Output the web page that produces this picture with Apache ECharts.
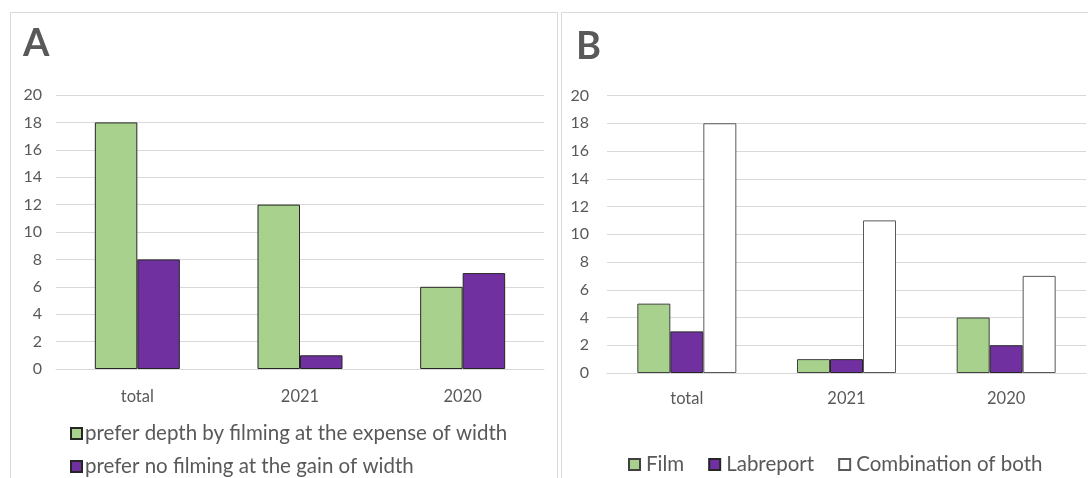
<!DOCTYPE html>
<html>
<head>
<meta charset="utf-8">
<script src="https://cdn.jsdelivr.net/npm/echarts@6/dist/echarts.min.js"></script>
<style>
  html, body { margin: 0; padding: 0; background: #fff; }
  #chart { width: 1088px; height: 478px; }
</style>
</head>
<body>
<div id="chart"></div>
<script>
// Categories shared by both panels
const categories = ['total', '2021', '2020'];
const yTicks = [0, 2, 4, 6, 8, 10, 12, 14, 16, 18, 20];

// Panel A: preference between depth (filming) and width
const seriesANames = ['prefer depth by filming at the expense of width', 'prefer no filming at the gain of width'];
const preferDepth = [18, 12, 6];
const preferNoFilming = [8, 1, 7];

// Panel B: preferred form of assessment
const seriesBNames = ['Film', 'Labreport', 'Combination of both'];
const film = [5, 1, 4];
const labreport = [3, 1, 2];
const combination = [18, 11, 7];

const GREEN = '#A9D18E';
const PURPLE = '#7030A0';
const WHITE = '#FFFFFF';
const TEXT = '#595959';
const GRID = '#D9D9D9';
const FONT = 'Lato, "Open Sans", sans-serif';

const chart = echarts.init(document.getElementById('chart'), null, { renderer: 'canvas' });

function xAxis(gridIndex, margin) {
  return {
    type: 'category', gridIndex, data: categories,
    axisTick: { show: false },
    axisLine: { lineStyle: { color: GRID, width: 1 } },
    axisLabel: { color: TEXT, fontSize: 16.5, fontFamily: FONT, margin }
  };
}
function yAxis(gridIndex, margin) {
  return {
    type: 'value', gridIndex, min: 0, max: yTicks[yTicks.length - 1], interval: 2,
    axisLine: { show: false }, axisTick: { show: false },
    splitLine: { lineStyle: { color: GRID, width: 1 } },
    axisLabel: { color: TEXT, fontSize: 16, fontFamily: FONT, margin }
  };
}
function bar(name, data, color, idx, width, border) {
  return {
    type: 'bar', name, data, xAxisIndex: idx, yAxisIndex: idx,
    barWidth: width, barGap: '0%',
    itemStyle: { color, borderColor: border, borderWidth: 1 },
    emphasis: { disabled: true }
  };
}
function legend(names, left, top, gap, pad) {
  return {
    data: names, orient: 'horizontal', left, top, itemGap: gap,
    itemWidth: 11, itemHeight: 11, icon: 'rect',
    textStyle: { color: TEXT, fontSize: 20.5, fontFamily: FONT, padding: [0, 0, 0, pad] },
    selectedMode: false
  };
}

chart.setOption({
  animation: false,
  textStyle: { fontFamily: FONT },
  title: [
    { text: 'A', left: 18, top: 20, textStyle: { fontSize: 38, fontWeight: 'bold', color: TEXT, fontFamily: FONT } },
    { text: 'B', left: 571, top: 23, textStyle: { fontSize: 38, fontWeight: 'bold', color: TEXT, fontFamily: FONT } }
  ],
  graphic: [
    { type: 'rect', shape: { x: 10.5, y: 12.5, width: 547, height: 480 }, style: { fill: 'none', stroke: GRID, lineWidth: 1 }, silent: true },
    { type: 'rect', shape: { x: 561.5, y: 12.5, width: 540, height: 480 }, style: { fill: 'none', stroke: GRID, lineWidth: 1 }, silent: true }
  ],
  grid: [
    { left: 56, right: 1088 - 544, top: 95, height: 274 },
    { left: 607, right: 2, top: 95.5, height: 277.5 }
  ],
  xAxis: [xAxis(0, 19), xAxis(1, 17)],
  yAxis: [yAxis(0, 14), yAxis(1, 18)],
  legend: [
    legend([seriesANames[0]], 65, 418, 24, -2),
    legend([seriesANames[1]], 65, 451, 24, -2),
    legend(seriesBNames, 623, 449, 24, 1)
  ],
  series: [
    bar(seriesANames[0], preferDepth, GREEN, 0, 42.5, '#262626'),
    bar(seriesANames[1], preferNoFilming, PURPLE, 0, 42.5, '#262626'),
    bar(seriesBNames[0], film, GREEN, 1, 33, '#404040'),
    bar(seriesBNames[1], labreport, PURPLE, 1, 33, '#262626'),
    bar(seriesBNames[2], combination, WHITE, 1, 33, '#595959')
  ]
});
</script>
</body>
</html>
